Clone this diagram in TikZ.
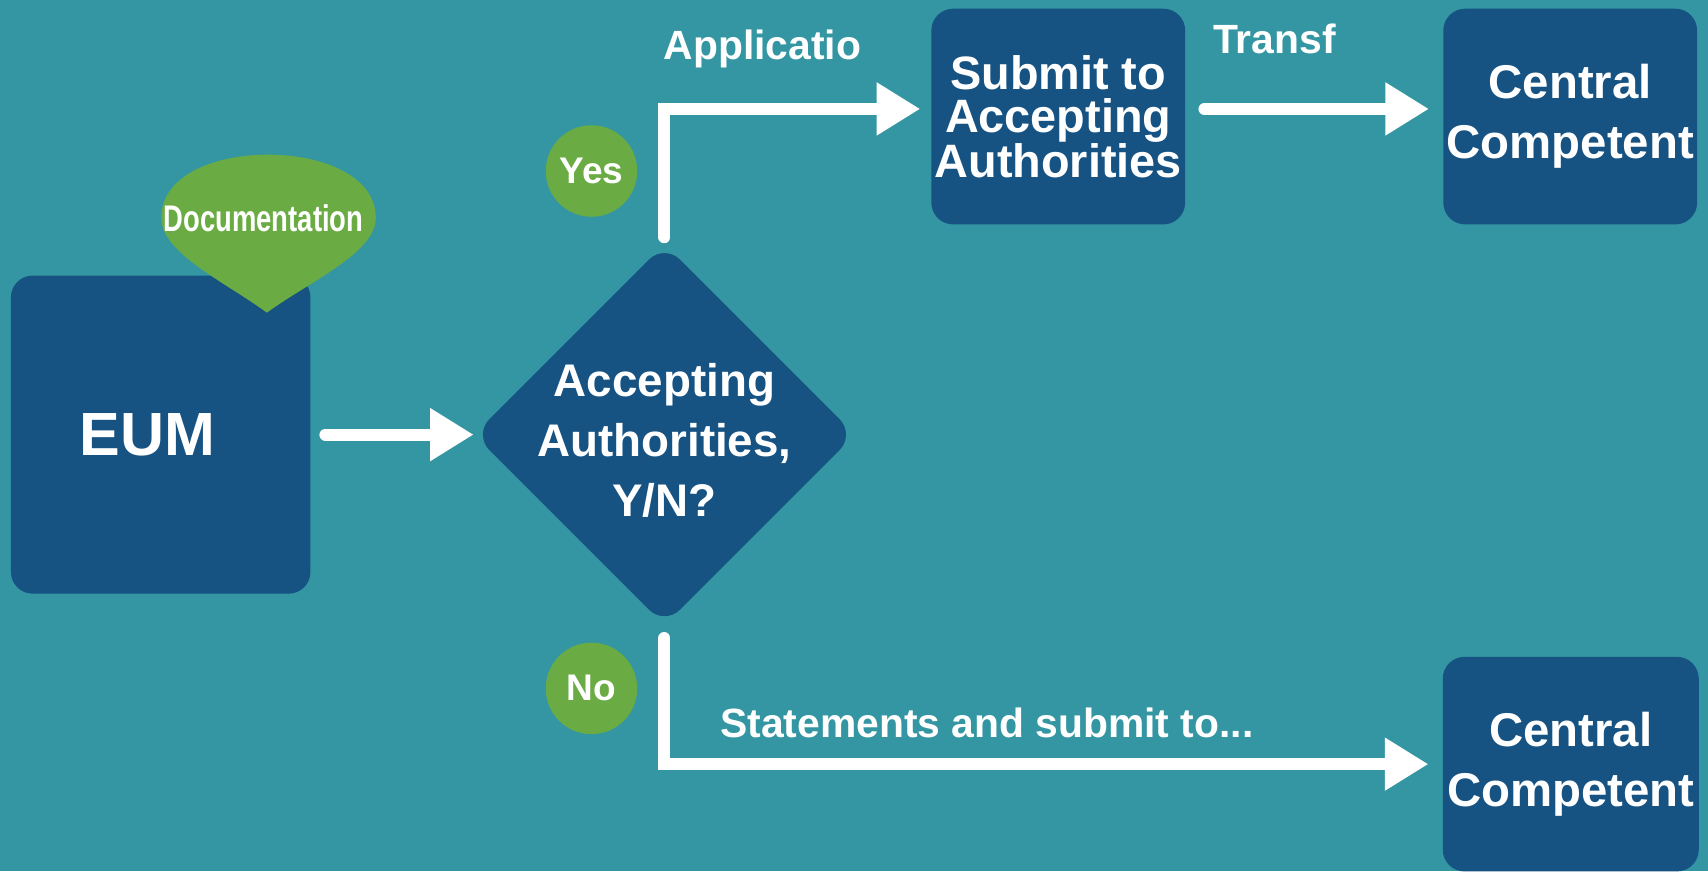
\documentclass[tikz,border=0pt]{standalone}
\usepackage{fontspec}
\setmainfont{Liberation Sans}
\usepackage{graphicx}
\usetikzlibrary{arrows.meta,shapes.geometric}
\definecolor{bgteal}{RGB}{51,150,162}
\definecolor{dblue}{RGB}{22,82,130}
\definecolor{lgreen}{RGB}{106,172,67}

\begin{document}
\begin{tikzpicture}[x=1pt,y=-1pt,
    box/.style={fill=dblue,rounded corners=20pt,text=white,align=center,inner sep=0pt,minimum width=233pt,minimum height=198pt},
    dec/.style={diamond,fill=dblue,rounded corners=20pt,inner sep=0pt,minimum width=350pt,minimum height=350pt},
    bub/.style={circle,fill=lgreen,inner sep=0pt,minimum size=84pt,text=white,font=\fontsize{34}{38}\selectfont\bfseries},
    arr/.style={white,line width=11pt,line cap=round,-{Triangle[length=40pt,width=46pt]}},
    lab/.style={text=white,inner sep=0pt,anchor=base,font=\fontsize{37.5}{40}\selectfont\bfseries}]
    \useasboundingbox (0,0) rectangle (1568,800);
    \fill[bgteal] (0,0) rectangle (1568,800);
    % boxes
    \node[box,minimum width=275pt,minimum height=292pt,font=\fontsize{56}{60}\selectfont\bfseries] (EUM) at (147.5,399) {EUM\hspace*{24pt}};
    \node[dec] (Dec) at (610,399) {};
    \node[text=white,align=center,font=\fontsize{42}{55}\selectfont\bfseries] (DecT) at (610,404) {Accepting\\Authorities,\\Y/N?};
    \node[box,font=\fontsize{43}{40}\selectfont\bfseries] (Sub) at (971.5,107) {Submit to\\Accepting\\Authorities};
    \node[box,font=\fontsize{43.5}{55}\selectfont\bfseries] (CC1) at (1441.5,107) {Central\\Competent};
    \node[box,minimum width=235pt,minimum height=197pt,font=\fontsize{43.5}{55}\selectfont\bfseries] (CC2) at (1442,701.5) {Central\\Competent};
    % documentation bubble
    \fill[lgreen] (245,287) .. controls (205,258) and (148,232) .. (148,200)
        .. controls (148,162) and (195,142) .. (246,142)
        .. controls (297,142) and (345,162) .. (345,200)
        .. controls (345,232) and (285,258) .. (245,287) -- cycle;
    \node[text=white,inner sep=0pt,font=\fontsize{34}{38}\selectfont\bfseries] (Doc) at (242,200) {\scalebox{0.74}[1]{Documentation}};
    \node[bub] (Yes) at (543,157) {Yes};
    \node[bub] (No) at (543,632) {No};
    % arrows
    \draw[arr,shorten <=13.5pt] (EUM.east) -- (Dec.west);
    \draw[arr,shorten <=6pt,shorten >=10pt] (Dec.north) |- ([yshift=7pt]Sub.west);
    \draw[arr,shorten <=17.5pt,shorten >=13pt] ([yshift=7pt]Sub.east) -- ([yshift=7pt]CC1.west);
    \draw[arr,shorten <=11.5pt,shorten >=13pt] (Dec.south) |- (CC2.west);
    % labels
    \node[lab] (ApL) at (700,55) {Applicatio};
    \node[lab] (TrL) at (1170,49) {Transf};
    \node[lab] (StL) at (906,677) {Statements and submit to...};
\end{tikzpicture}
\end{document}
